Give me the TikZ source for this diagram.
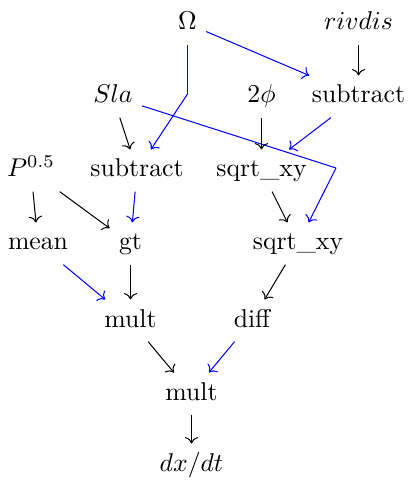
\documentclass[tikz,border=0pt]{standalone}
\usetikzlibrary{arrows.meta}
\begin{document}
\begin{tikzpicture}[x=0.389pt,y=-0.389pt,
  lbl/.style={anchor=base,inner sep=3.5pt,text height=7pt,text depth=2pt},
  blk/.style={->,black},
  blu/.style={->,blue}]
\useasboundingbox (0,0) rectangle (409,481);
\node[lbl] (omega) at (187.5,30) {$\Omega$};
\node[lbl] (rivdis) at (358.5,30) {$rivdis$};
\node[lbl] (sla) at (113,103) {$Sla$};
\node[lbl] (twophi) at (261.5,103) {$2\phi$};
\node[lbl] (subA) at (358.5,103) {subtract};
\node[lbl] (p) at (31,177) {$P^{0.5}$};
\node[lbl] (subB) at (137,177) {subtract};
\node[lbl] (sqrtA) at (261.5,177) {sqrt\_xy};
\node[lbl] (mean) at (38,250) {mean};
\node[lbl] (gt) at (130.5,250) {gt};
\node[lbl] (sqrtB) at (298,250) {sqrt\_xy};
\node[lbl] (multA) at (130.5,327) {mult};
\node[lbl] (diff) at (252,327) {diff};
\node[lbl] (multB) at (191.5,400) {mult};
\node[lbl] (dxdt) at (191.5,471) {$dx/dt$};
\coordinate (bendO) at (187.5,94);
\coordinate (bendS) at (336,168);
\draw[blk] (rivdis) -- (subA);
\draw[blu] (omega) -- (subA);
\draw[blue] (omega.south -| bendO) -- (bendO);
\draw[blu] (bendO) -- (subB);
\draw[blk] (sla) -- (subB);
\draw[blue] (sla) -- (bendS);
\draw[blu] (bendS) -- (sqrtB);
\draw[blk] (twophi) -- (sqrtA);
\draw[blu] (subA) -- (sqrtA);
\draw[blk] (p) -- (mean);
\draw[blk] (p) -- (gt);
\draw[blu] (subB) -- (gt);
\draw[blk] (sqrtA) -- (sqrtB);
\draw[blu] (mean) -- (multA);
\draw[blk] (gt) -- (multA);
\draw[blk] (sqrtB) -- (diff);
\draw[blk] (multA) -- (multB);
\draw[blu] (diff) -- (multB);
\draw[blk] (multB) -- (dxdt);
\end{tikzpicture}
\end{document}
